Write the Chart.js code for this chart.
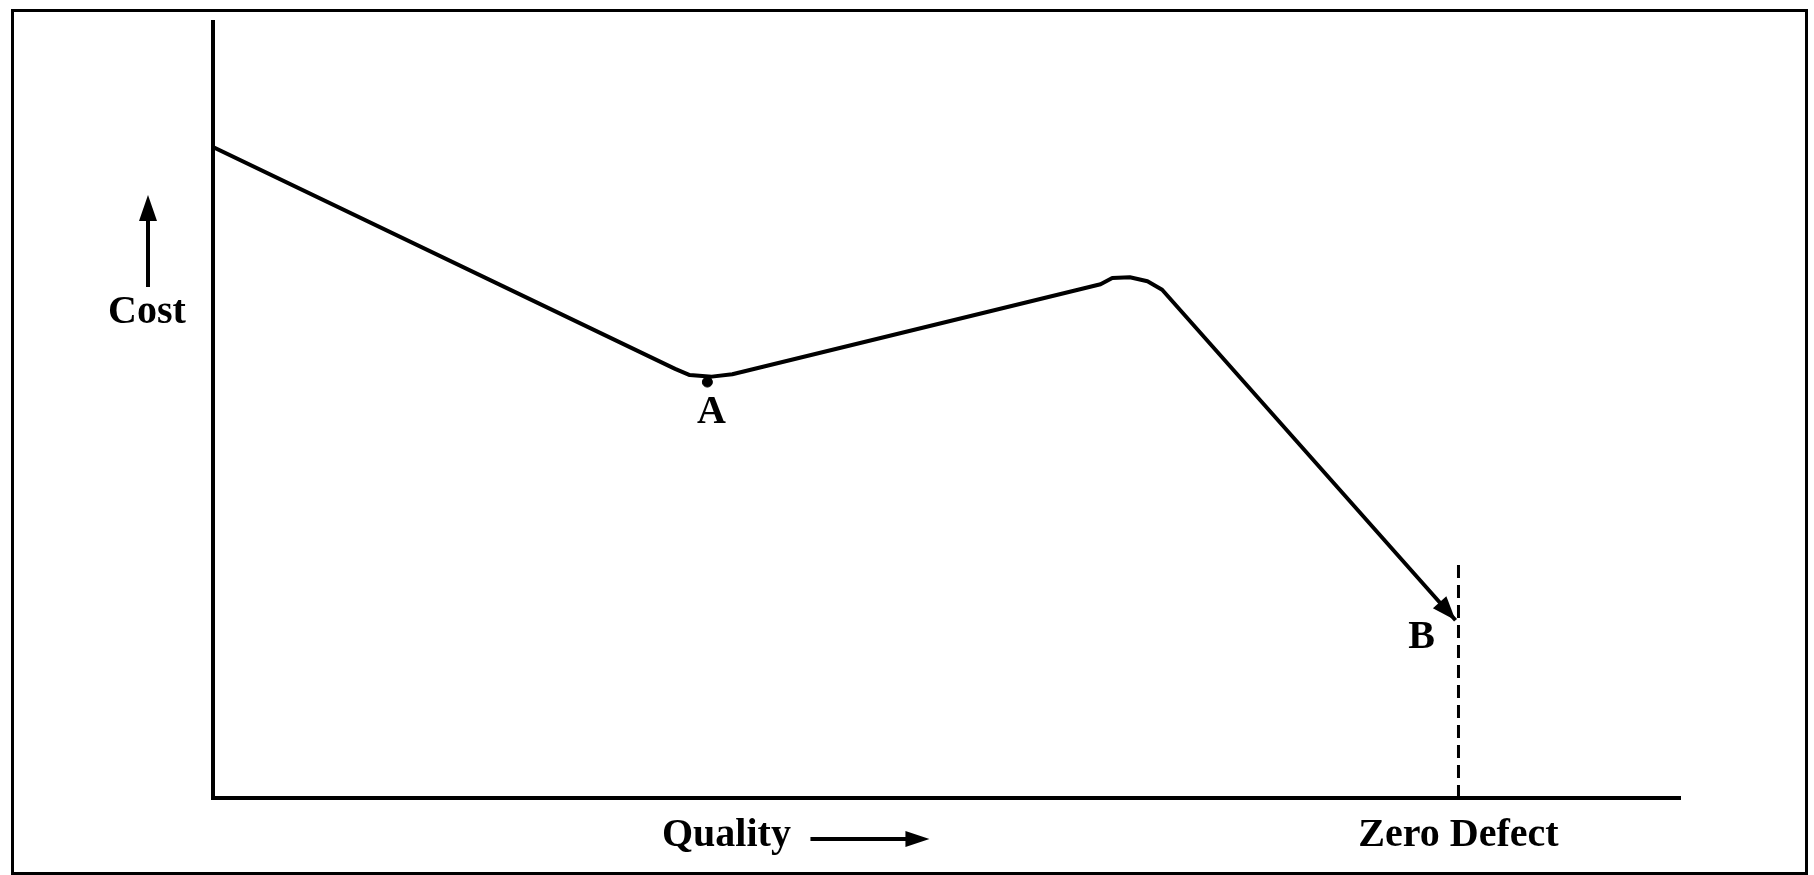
<!DOCTYPE html>
<html lang="en">
<head>
<meta charset="UTF-8">
<title>Quality vs Cost</title>
<script src="https://cdn.jsdelivr.net/npm/chart.js@4/dist/chart.umd.min.js"></script>
<style>
  html, body { margin: 0; padding: 0; background: #fff; }
  .frame { position: absolute; left: 11px; top: 9px; width: 1797px; height: 866px;
           box-sizing: border-box; border: 3px solid #000; }
  canvas { position: absolute; left: 0; top: 0; }
</style>
</head>
<body>
<div class="frame"></div>
<canvas id="costChart" width="1814" height="875"></canvas>
<script>
// curve: cost against quality (0..100 on both axes)
const qualityX = [0, 31.5, 32.5, 34.0, 35.4, 60.5, 61.3, 62.5, 63.7, 64.7, 84.7];
const costY    = [83.9, 55.3, 54.5, 54.3, 54.6, 66.2, 67.0, 67.1, 66.6, 65.5, 22.9];

// point A (minimum cost) and the zero-defect limit
const pointA     = { x: 33.7, y: 53.6 };
const zeroDefect = 84.9;
const zeroLineY  = [0, 30.8];

const FONT = 'bold 40px "Liberation Serif", serif';

function arrowHead(ctx, x, y, angle, len, half) {
  ctx.save();
  ctx.translate(x, y);
  ctx.rotate(angle);
  ctx.beginPath();
  ctx.moveTo(0, 0);
  ctx.lineTo(-len, -half);
  ctx.lineTo(-len, half);
  ctx.closePath();
  ctx.fill();
  ctx.restore();
}

// draws labels + arrows
const decorations = {
  id: 'decorations',
  afterDatasetsDraw(chart) {
    const { ctx, chartArea, scales } = chart;
    const xs = scales.x, ys = scales.y;
    ctx.save();
    ctx.fillStyle = '#000';
    ctx.strokeStyle = '#000';
    ctx.font = FONT;
    ctx.textAlign = 'center';
    ctx.textBaseline = 'middle';

    // arrow at the end of the curve (B)
    const n = qualityX.length;
    const x1 = xs.getPixelForValue(qualityX[n - 2]), y1 = ys.getPixelForValue(costY[n - 2]);
    const x2 = xs.getPixelForValue(qualityX[n - 1]), y2 = ys.getPixelForValue(costY[n - 1]);
    arrowHead(ctx, x2, y2, Math.atan2(y2 - y1, x2 - x1), 24, 9);

    // A and B labels
    const ax = xs.getPixelForValue(pointA.x), ay = ys.getPixelForValue(pointA.y);
    ctx.fillText('A', ax + 4, ay + 31);
    ctx.fillText('B', x2 - 34, y2 + 17);

    // Cost + up arrow
    const cx = chartArea.left - 66;
    const cy = ys.getPixelForValue(62.5);
    ctx.fillText('Cost', cx, cy);
    ctx.lineWidth = 4;
    ctx.beginPath();
    ctx.moveTo(cx + 1, cy - 26);
    ctx.lineTo(cx + 1, cy - 96);
    ctx.stroke();
    arrowHead(ctx, cx + 1, cy - 118, -Math.PI / 2, 26, 9);

    // Quality + right arrow
    const qy = chartArea.bottom + 38;
    const qx = xs.getPixelForValue(35);
    ctx.fillText('Quality', qx, qy);
    ctx.beginPath();
    ctx.moveTo(qx + 84, qy + 3);
    ctx.lineTo(qx + 185, qy + 3);
    ctx.stroke();
    arrowHead(ctx, qx + 203, qy + 3, 0, 24, 8);

    // Zero Defect
    ctx.fillText('Zero Defect', xs.getPixelForValue(zeroDefect), qy);
    ctx.restore();
  }
};

const ctx = document.getElementById('costChart').getContext('2d');
new Chart(ctx, {
  type: 'line',
  data: {
    datasets: [
      {
        label: 'Cost',
        data: qualityX.map((x, i) => ({ x, y: costY[i] })),
        borderColor: '#000',
        borderWidth: 4,
        borderJoinStyle: 'round',
        pointRadius: 0,
        tension: 0,
        fill: false
      },
      {
        label: 'A',
        data: [pointA],
        showLine: false,
        pointRadius: 5,
        pointBackgroundColor: '#000',
        pointBorderColor: '#000'
      },
      {
        label: 'Zero Defect',
        data: zeroLineY.map(y => ({ x: zeroDefect, y })),
        borderColor: '#000',
        borderWidth: 3,
        borderDash: [13, 7],
        pointRadius: 0
      }
    ]
  },
  options: {
    responsive: false,
    animation: false,
    devicePixelRatio: 1,
    layout: { padding: { left: 213, top: 22, right: 134, bottom: 77 } },
    plugins: { legend: { display: false }, tooltip: { enabled: false } },
    scales: {
      x: {
        type: 'linear', min: 0, max: 100,
        ticks: { display: false },
        grid: { display: false, drawTicks: false },
        border: { display: true, color: '#000', width: 4 }
      },
      y: {
        min: 0, max: 100,
        ticks: { display: false },
        grid: { display: false, drawTicks: false },
        border: { display: true, color: '#000', width: 4 }
      }
    }
  },
  plugins: [decorations]
});
</script>
</body>
</html>
